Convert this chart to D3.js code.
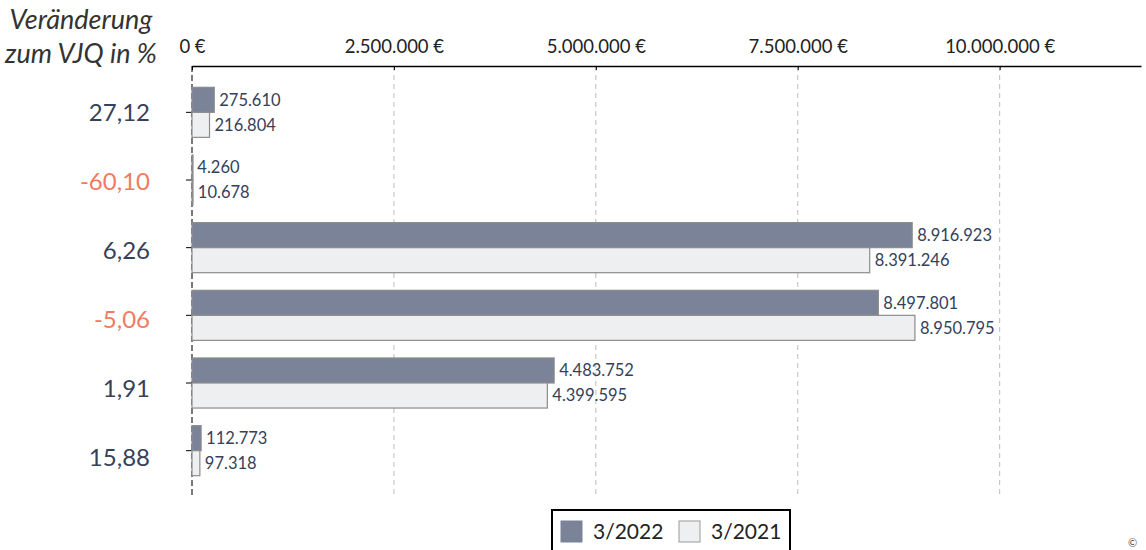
<!DOCTYPE html>
<html>
<head>
<meta charset="utf-8">
<script src="https://cdn.jsdelivr.net/npm/d3@7"></script>
<style>
  body { margin: 0; background: #fff; }
  svg { font-family: Lato, "Open Sans", sans-serif; }
</style>
</head>
<body>
<script>
var width = 1146;
var height = 550;

// data
var changes = ["27,12", "-60,10", "6,26", "-5,06", "1,91", "15,88"];
var series = ["3/2022", "3/2021"];
var values2022 = [275610, 4260, 8916923, 8497801, 4483752, 112773];
var values2021 = [216804, 10678, 8391246, 8950795, 4399595, 97318];
var tickValues = [0, 2500000, 5000000, 7500000, 10000000];

var de = d3.formatLocale({ decimal: ",", thousands: ".", grouping: [3], currency: ["", " €"] });
var fmt = de.format(",d");

var fill = { "3/2022": "#7a8398", "3/2021": "#eeeff0" };
var stroke = { "3/2022": "#8c8c8c", "3/2021": "#8c8c8c" };

var svg = d3.select("body").append("svg")
    .attr("width", width)
    .attr("height", height);

var x = d3.scaleLinear()
    .domain([0, 11750000])
    .range([192, 1141]);

var y = d3.scaleBand()
    .domain(changes)
    .range([78.5, 484.5])
    .paddingInner(0.26)
    .paddingOuter(0.13);

var ySub = d3.scaleBand()
    .domain(series)
    .range([0, y.bandwidth()]);

// labels on the left drift slightly from the bars in the original
var yLab = d3.scalePoint()
    .domain(changes)
    .range([113, 458]);

var rows = changes.map(function(c, i) {
    return { change: c, vals: [
        { s: "3/2022", v: values2022[i] },
        { s: "3/2021", v: values2021[i] }
    ] };
});

// grid lines
svg.append("g")
    .selectAll("line")
    .data(tickValues.slice(1))
    .enter().append("line")
    .attr("x1", function(d) { return x(d); })
    .attr("x2", function(d) { return x(d); })
    .attr("y1", 66)
    .attr("y2", 497)
    .attr("stroke", "#bdbdbd")
    .attr("stroke-dasharray", "5,4");

// zero line
svg.append("line")
    .attr("x1", x(0)).attr("x2", x(0))
    .attr("y1", 66).attr("y2", 497)
    .attr("stroke", "#222")
    .attr("stroke-width", 1.2)
    .attr("stroke-dasharray", "6,3");

// top axis
var xAxis = svg.append("g")
    .attr("transform", "translate(0,66)")
    .call(d3.axisTop(x).tickValues(tickValues).tickSize(-4).tickSizeOuter(0)
        .tickFormat(function(d) { return fmt(d) + " €"; }))
    .attr("font-size", null)
    .attr("font-family", null);
xAxis.select(".domain").attr("stroke", "#000").attr("stroke-width", 1.5);
xAxis.selectAll(".tick line").attr("stroke", "#000");
xAxis.selectAll(".tick text")
    .attr("y", -13)
    .attr("fill", "#222")
    .attr("font-size", 18.5);

// left ticks
svg.append("g")
    .selectAll("line")
    .data(changes)
    .enter().append("line")
    .attr("x1", x(0) - 6).attr("x2", x(0))
    .attr("y1", function(d) { return y(d) + y.bandwidth() / 2; })
    .attr("y2", function(d) { return y(d) + y.bandwidth() / 2; })
    .attr("stroke", "#000");

// bars
var groups = svg.append("g")
    .selectAll("g")
    .data(rows)
    .enter().append("g")
    .attr("transform", function(d) { return "translate(0," + y(d.change) + ")"; });

groups.selectAll("rect")
    .data(function(d) { return d.vals; })
    .enter().append("rect")
    .attr("x", x(0))
    .attr("y", function(d) { return ySub(d.s); })
    .attr("width", function(d) { return Math.max(x(d.v) - x(0), 1); })
    .attr("height", ySub.bandwidth())
    .attr("fill", function(d) { return fill[d.s]; })
    .attr("stroke", function(d) { return stroke[d.s]; })
    .attr("stroke-width", 1.2);

groups.selectAll("text")
    .data(function(d) { return d.vals; })
    .enter().append("text")
    .attr("x", function(d) { return x(d.v) + 5; })
    .attr("y", function(d) { return ySub(d.s) + ySub.bandwidth() / 2; })
    .attr("dy", "0.35em")
    .attr("fill", "#34415a")
    .style("font-size", "16.5px")
    .text(function(d) { return fmt(d.v); });

// change labels
svg.append("g")
    .selectAll("text")
    .data(changes)
    .enter().append("text")
    .attr("x", 150)
    .attr("y", function(d) { return yLab(d); })
    .attr("dy", "0.35em")
    .attr("text-anchor", "end")
    .attr("fill", function(d) { return d.charAt(0) == "-" ? "#f27a60" : "#34415a"; })
    .style("font-size", "24px")
    .text(function(d) { return d; });

// title
var title = svg.append("text")
    .attr("text-anchor", "middle")
    .attr("fill", "#333")
    .style("font-size", "27px")
    .style("font-style", "italic");
title.append("tspan").attr("x", 81).attr("y", 29).text("Veränderung");
title.append("tspan").attr("x", 81).attr("y", 63).text("zum VJQ in %");

// legend
var legend = svg.append("g");
legend.append("rect")
    .attr("x", 552).attr("y", 510)
    .attr("width", 238).attr("height", 50)
    .attr("fill", "#fff")
    .attr("stroke", "#000")
    .attr("stroke-width", 2);

var li = legend.selectAll("g")
    .data(series)
    .enter().append("g")
    .attr("transform", function(d, i) { return "translate(" + (561 + i * 118) + ",521)"; });
li.append("rect")
    .attr("width", 21).attr("height", 21)
    .attr("fill", function(d) { return fill[d]; })
    .attr("stroke", function(d) { return d == "3/2021" ? "#999" : fill[d]; });
li.append("text")
    .attr("x", 32).attr("y", 11)
    .attr("dy", "0.35em")
    .attr("fill", "#222")
    .style("font-size", "21px")
    .text(function(d) { return d; });

svg.append("text")
    .attr("x", 1128).attr("y", 547)
    .attr("fill", "#555")
    .style("font-size", "11px")
    .text("©");
</script>
</body>
</html>
